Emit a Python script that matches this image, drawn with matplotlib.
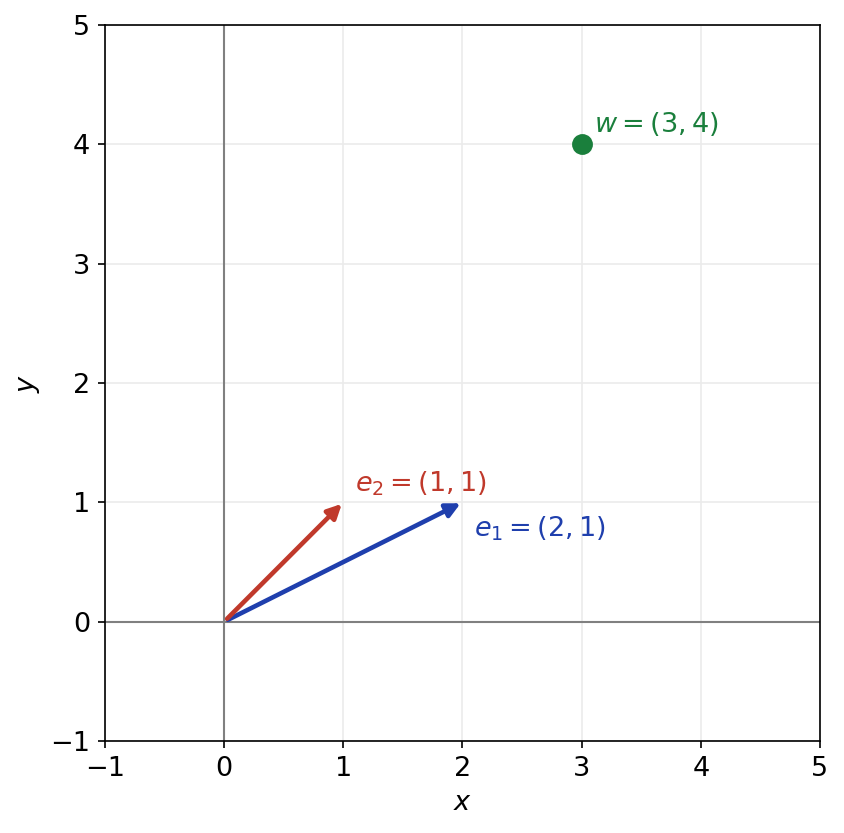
import matplotlib.pyplot as plt

# vectors and point
vec_names = ['e_1', 'e_2']
vec_x = [2, 1]
vec_y = [1, 1]
vec_colors = ['#1f3fad', '#c0392b']
point_w = (3, 4)
lim = (-1, 5)
ticks = [-1, 0, 1, 2, 3, 4, 5]

fig = plt.figure(figsize=(844/150, 833/150), dpi=150)
ax = fig.add_axes([105/844, 1 - 741/833, 715/844, 716/833])

ax.axhline(0, color='grey', lw=1)
ax.axvline(0, color='grey', lw=1)
ax.grid(True, color='#ebebeb', lw=0.8)

for name, x, y, c in zip(vec_names, vec_x, vec_y, vec_colors):
    ax.annotate('', xy=(x, y), xytext=(0, 0),
                arrowprops=dict(arrowstyle='-|>', color=c, lw=2.2, mutation_scale=14,
                                shrinkA=2, shrinkB=1))

ax.text(vec_x[0] + 0.1, vec_y[0] - 0.29, r'$e_1 = (2, 1)$', color=vec_colors[0], fontsize=13)
ax.text(vec_x[1] + 0.1, vec_y[1] + 0.09, r'$e_2 = (1, 1)$', color=vec_colors[1], fontsize=13)

ax.plot(point_w[0], point_w[1], 'o', color='#1a7f3c', ms=9)
ax.text(point_w[0] + 0.1, point_w[1] + 0.1, r'$w = (3, 4)$', color='#1a7f3c', fontsize=13)

ax.set_xlim(*lim)
ax.set_ylim(*lim)
ax.set_xticks(ticks)
ax.set_yticks(ticks)
ax.tick_params(labelsize=13)
ax.set_xlabel('$x$', fontsize=13)
ax.set_ylabel('$y$', fontsize=13)

fig.savefig('out.png', dpi=150)
